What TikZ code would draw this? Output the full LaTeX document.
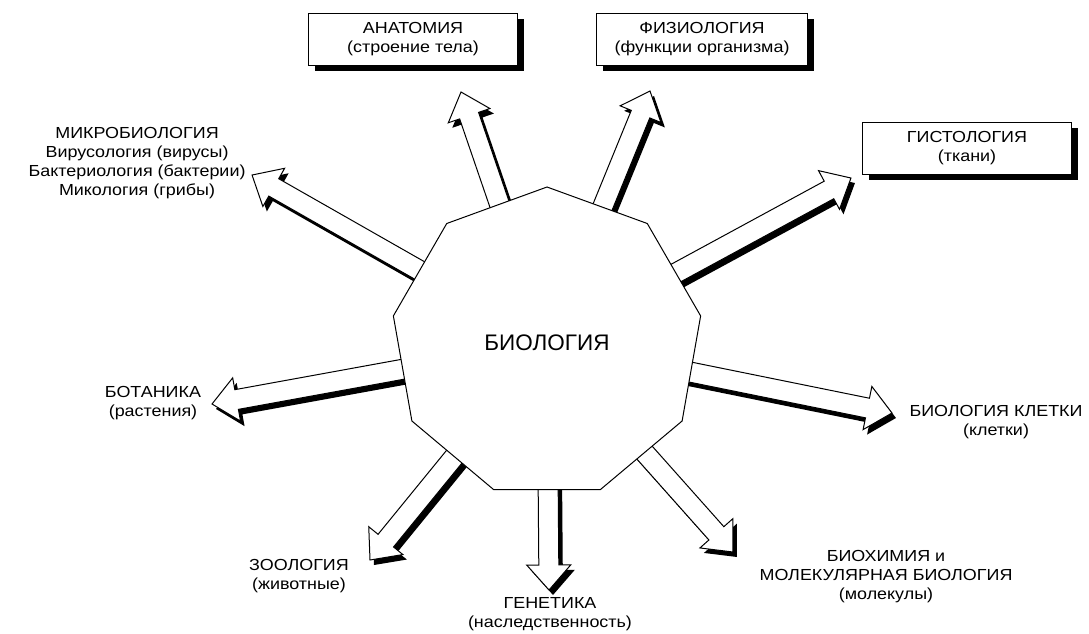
\documentclass[tikz,border=0pt]{standalone}
\usepackage{fontspec}
\setmainfont{Liberation Sans}
\newfontfamily\labelfont{Liberation Sans}[FakeStretch=1.12]
\usepackage{tikz}
\usetikzlibrary{calc}
\usetikzlibrary{shapes.geometric}
\usetikzlibrary{shadows}

\pgfdeclarelayer{back}
\pgfsetlayers{back,main}

\tikzset{
  fieldbox/.style={draw, line width=1pt, fill=white, minimum width=209pt, minimum height=52pt,
                   align=center, inner sep=2pt,
                   drop shadow={shadow xshift=6pt, shadow yshift=-6pt, opacity=1, fill=black}},
  fieldlabel/.style={align=center, inner sep=0pt},
}

\newcommand{\arrowoutline}{(0,-10) -- (\brlen-25,-10) -- (\brlen-25,-22) -- (\brlen,0)
                           -- (\brlen-25,22) -- (\brlen-25,10) -- (0,10) -- cycle}
% hollow block arrow with black shadow, from node #1 to tip coordinate #2
\newcommand{\branch}[2]{%
  \path let \p1=($(#2)-(#1.center)$), \n1={atan2(\y1,\x1)}, \n2={veclen(\x1,\y1)}
    in \pgfextra{\pgfmathsetmacro{\tmpa}{\n1}\pgfmathsetmacro{\tmpb}{\n2}%
                 \xdef\brangle{\tmpa}\xdef\brlen{\tmpb}};
  \begin{pgfonlayer}{back}
    \fill[black, shift={($(#1.center)+(4pt,-5pt)$)}, rotate=\brangle] \arrowoutline;
    \filldraw[fill=white, draw=black, line width=1pt, shift={(#1.center)}, rotate=\brangle] \arrowoutline;
  \end{pgfonlayer}}

\begin{document}
\begin{tikzpicture}[x=1pt, y=-1pt, every node/.style={font=\labelfont\fontsize{16}{19}\selectfont}]
            \useasboundingbox (0,0) rectangle (1089,633);
            \node (bio) [regular polygon, regular polygon sides=9, minimum size=312pt, inner sep=0pt,
                         draw, line width=1pt, fill=white, font=\fontsize{22.5}{27}\selectfont]
                  at (547,343) {БИОЛОГИЯ};

            % boxed fields
            \node (anat) [fieldbox] at (413,39)  {АНАТОМИЯ\\(строение тела)};
            \node (phys) [fieldbox, minimum width=211pt] at (702,39) {ФИЗИОЛОГИЯ\\(функции организма)};
            \node (hist) [fieldbox] at (967,148) {ГИСТОЛОГИЯ\\(ткани)};

            % free labels
            \node (micro) [fieldlabel] at (137,163) {МИКРОБИОЛОГИЯ\\Вирусология (вирусы)\\Бактериология (бактерии)\\Микология (грибы)};
            \node (bot)   [fieldlabel] at (153,403) {БОТАНИКА\\(растения)};
            \node (zoo)   [fieldlabel] at (299,576) {ЗООЛОГИЯ\\(животные)};
            \node (gen)   [fieldlabel] at (550,614) {ГЕНЕТИКА\\(наследственность)};
            \node (bchem) [fieldlabel] at (886,577) {БИОХИМИЯ и\\МОЛЕКУЛЯРНАЯ БИОЛОГИЯ\\(молекулы)};
            \node (cell)  [fieldlabel] at (996,422) {БИОЛОГИЯ КЛЕТКИ\\(клетки)};

            % arrow tips
            \coordinate (t-micro) at (252,175);
            \coordinate (t-anat)  at (461,92);
            \coordinate (t-phys)  at (650,91);
            \coordinate (t-hist)  at (851,178);
            \coordinate (t-cell)  at (892,413);
            \coordinate (t-bchem) at (733,552);
            \coordinate (t-gen)   at (549,590);
            \coordinate (t-zoo)   at (370,560);
            \coordinate (t-bot)   at (212,404);

            \foreach \tip in {t-micro, t-anat, t-phys, t-hist, t-cell, t-bchem, t-gen, t-zoo, t-bot}
                \branch{bio}{\tip};
\end{tikzpicture}
\end{document}
